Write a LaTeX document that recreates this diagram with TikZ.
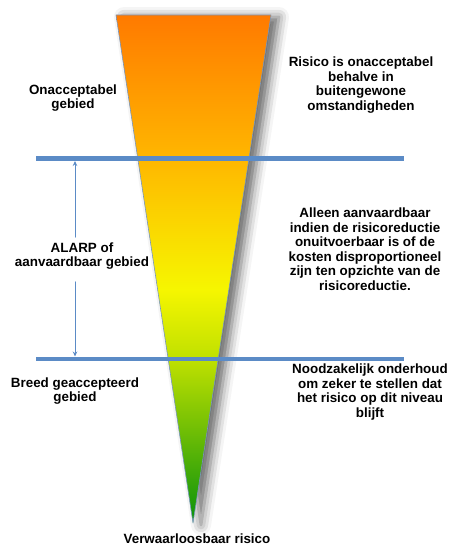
\documentclass[tikz,border=0pt]{standalone}
\usepackage{fontspec}
\setmainfont{Liberation Sans}
\usetikzlibrary{arrows.meta,shadows.blur}

\definecolor{lijnblauw}{RGB}{91,139,198}
\definecolor{randblauw}{RGB}{120,150,190}
\definecolor{groen}{RGB}{8,145,12}
\definecolor{geelgroen}{RGB}{190,224,0}
\definecolor{geel}{RGB}{246,246,0}
\definecolor{oranjegeel}{RGB}{255,182,0}
\definecolor{oranje}{RGB}{255,122,0}
% verloop van groen (punt) naar oranje (top)
\pgfdeclareverticalshading{risicoverloop}{100bp}{color(0bp)=(groen); color(25bp)=(groen);
  color(41bp)=(geelgroen); color(48bp)=(geel); color(61bp)=(oranjegeel); color(75bp)=(oranje); color(100bp)=(oranje)}

\begin{document}
\begin{tikzpicture}[x=1pt,y=-1pt,line cap=round,line join=round,
  tekst/.style={font=\bfseries\fontsize{13.4}{14.5}\selectfont,align=center,inner sep=0pt},
  grens/.style={draw=lijnblauw,line width=4.5pt,line cap=butt},
  pijl/.style={-{Stealth[length=5pt,width=4.5pt]},draw=lijnblauw,line width=0.8pt}]
  \useasboundingbox (0,0) rectangle (452,545);
  % trechter, met zachte schaduw rechts
  \path[blur shadow={shadow xshift=8pt,shadow yshift=-2pt,shadow blur radius=10pt,shadow opacity=60}]
    (116,15) -- (271,15) -- (193,523) -- cycle;
  \path[shading=risicoverloop,draw=randblauw,line width=0.6pt]
    (116,15) -- (271,15) -- (193,523) -- cycle;
  % grenslijnen
  \draw[grens] (36,158.5) -- (404,158.5);
  \draw[grens] (36,359) -- (404,359);
  \coordinate (boven) at (75,161);
  \coordinate (onder) at (75,356.5);
  % teksten links
  \node[tekst] (onacc) at (73,98) {Onacceptabel\\gebied};
  \node[tekst] (alarp) at (82,256) {ALARP of\\aanvaardbaar gebied};
  \node[tekst] (breed) at (75,391) {Breed geaccepteerd\\gebied};
  % teksten rechts
  \node[tekst] (risico) at (361,85) {Risico is onacceptabel\\behalve in\\buitengewone\\omstandigheden};
  \node[tekst] (alleen) at (365,249) {Alleen aanvaardbaar\\indien de risicoreductie\\onuitvoerbaar is of de\\kosten disproportioneel\\zijn ten opzichte van de\\risicoreductie.};
  \node[tekst] (nood) at (370,392) {Noodzakelijk onderhoud\\om zeker te stellen dat\\het risico op dit niveau\\blijft};
  \node[tekst,anchor=base] (verw) at (197,543) {Verwaarloosbaar risico};
  % pijlen langs het ALARP-gebied
  \draw[pijl] ([yshift=5pt]alarp.north -| boven) -- (boven);
  \draw[pijl] ([yshift=-12pt]alarp.south -| onder) -- (onder);
\end{tikzpicture}
\end{document}
